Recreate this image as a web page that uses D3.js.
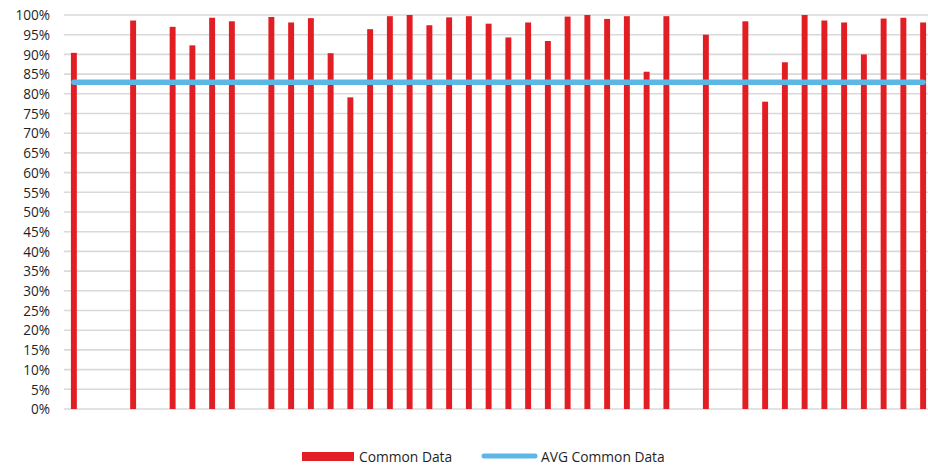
<!DOCTYPE html>
<html>
<head>
<meta charset="utf-8">
<script src="https://cdn.jsdelivr.net/npm/d3@7"></script>
<style>
  html, body { margin: 0; padding: 0; background: #fff; }
  svg { display: block; }
  text { font-family: "Open Sans", "Liberation Sans", sans-serif; fill: #1f1f1f; }
</style>
</head>
<body>
<svg id="chart" width="928" height="466"></svg>
<script>
// Category slots (44 samples); null marks a slot with no reading
const categories = d3.range(1, 45).map(String);
const commonData = [
  0.904, null, null, 0.986, null, 0.970, 0.923, 0.993, 0.984, null,
  0.995, 0.981, 0.992, 0.903, 0.791, 0.964, 0.997, 1.000, 0.974, 0.994,
  0.997, 0.978, 0.943, 0.981, 0.934, 0.996, 1.000, 0.990, 0.997, 0.856,
  0.997, null, 0.950, null, 0.984, 0.780, 0.880, 1.000, 0.986, 0.981,
  0.900, 0.991, 0.993, 0.981
];
const avgCommonData = 0.829;
const yTicks = d3.range(0, 1.0001, 0.05);
const seriesNames = ["Common Data", "AVG Common Data"];

const colors = { bar: "#E21D24", avg: "#5DB7E4", grid: "#D9D9D9" };

const svg = d3.select("#chart");
const plot = { left: 64, right: 933, top: 15, bottom: 409 };

const x = d3.scaleBand()
  .domain(categories)
  .range([plot.left, plot.right])
  .paddingInner(0.7)
  .paddingOuter(0.35);

const y = d3.scaleLinear()
  .domain([0, 1])
  .range([plot.bottom, plot.top]);

// Horizontal gridlines
svg.append("g")
  .selectAll("line")
  .data(yTicks)
  .join("line")
  .attr("x1", plot.left)
  .attr("x2", plot.right)
  .attr("y1", d => y(d))
  .attr("y2", d => y(d))
  .attr("stroke", colors.grid)
  .attr("stroke-width", 1.6);

// Y axis labels
const yAxis = d3.axisLeft(y)
  .tickValues(yTicks)
  .tickFormat(d3.format(".0%"))
  .tickSize(0)
  .tickPadding(0);

const yAxisG = svg.append("g")
  .attr("transform", "translate(50,0)")
  .call(yAxis);
yAxisG.select(".domain").remove();
yAxisG.selectAll("text")
  .attr("font-size", 13.6)
  .attr("dy", "0.35em")
  .style("font-family", '"Open Sans", sans-serif')
  .attr("fill", "#1f1f1f");

// Bars
const pts = categories.map((c, i) => ({ c, v: commonData[i] }));
svg.append("g")
  .selectAll("rect")
  .data(pts.filter(d => d.v != null))
  .join("rect")
  .attr("x", d => x(d.c))
  .attr("width", x.bandwidth())
  .attr("y", d => y(d.v))
  .attr("height", d => y(0) - y(d.v))
  .attr("fill", colors.bar);

// Average line across all slots
svg.append("line")
  .attr("x1", x(categories[0]) + x.bandwidth() / 2)
  .attr("x2", x(categories[categories.length - 1]) + x.bandwidth() / 2)
  .attr("y1", y(avgCommonData))
  .attr("y2", y(avgCommonData))
  .attr("stroke", colors.avg)
  .attr("stroke-width", 5.5)
  .attr("stroke-linecap", "round");

// Legend
const legend = svg.append("g");
legend.append("rect")
  .attr("x", 302).attr("y", 452)
  .attr("width", 52).attr("height", 9)
  .attr("fill", colors.bar);
legend.append("text")
  .attr("x", 359).attr("y", 461.5)
  .attr("font-size", 13.8)
  .text(seriesNames[0]);
legend.append("line")
  .attr("x1", 484).attr("x2", 535)
  .attr("y1", 456).attr("y2", 456)
  .attr("stroke", colors.avg)
  .attr("stroke-width", 5)
  .attr("stroke-linecap", "round");
legend.append("text")
  .attr("x", 541).attr("y", 461.5)
  .attr("font-size", 13.8)
  .text(seriesNames[1]);
</script>
</body>
</html>
